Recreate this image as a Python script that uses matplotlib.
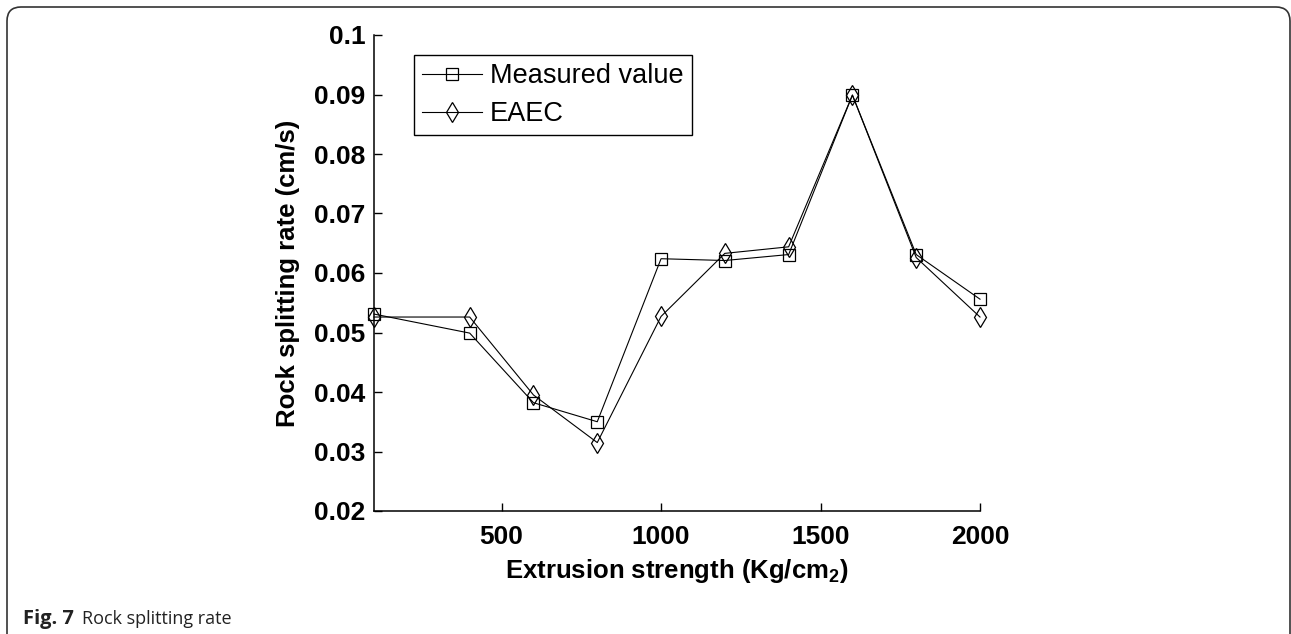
import matplotlib
matplotlib.use('Agg')
import matplotlib.pyplot as plt
from matplotlib.patches import FancyBboxPatch

# values
pressure = [100, 400, 600, 800, 1000, 1200, 1400, 1600, 1800, 2000]
measured = [0.0531, 0.0499, 0.0382, 0.0350, 0.0624, 0.0621, 0.0631, 0.0899, 0.0631, 0.0556]
eaec = [0.0526, 0.0526, 0.0395, 0.0315, 0.0527, 0.0633, 0.0644, 0.0899, 0.0626, 0.0526]

x_ticks = [500, 1000, 1500, 2000]
y_ticks = [0.02, 0.03, 0.04, 0.05, 0.06, 0.07, 0.08, 0.09, 0.1]
y_ticklabels = ['0.02', '0.03', '0.04', '0.05', '0.06', '0.07', '0.08', '0.09', '0.1']

plt.rcParams['font.family'] = ['Liberation Sans', 'DejaVu Sans']
plt.rcParams['mathtext.default'] = 'regular'

fig = plt.figure(figsize=(12.91, 6.34), dpi=100)
ax = fig.add_axes([374 / 1291, 1 - 511 / 634, 606 / 1291, 476 / 634])

ax.plot(pressure, measured, color='black', lw=0.8, marker='s', markersize=9,
        fillstyle='none', markeredgewidth=0.9, clip_on=False, label='Measured value')
ax.plot(pressure, eaec, color='black', lw=0.8, marker='d', markersize=10,
        fillstyle='none', markeredgewidth=0.9, clip_on=False, label='EAEC')

ax.set_xlim(100, 2000)
ax.set_ylim(0.02, 0.1)
ax.set_xticks(x_ticks)
ax.set_xticklabels([str(t) for t in x_ticks], fontsize=19, fontweight='bold')
ax.set_yticks(y_ticks)
ax.set_yticklabels(y_ticklabels, fontsize=19, fontweight='bold')
ax.tick_params(direction='in', length=6, width=1, color='black')
ax.tick_params(axis='x', pad=10)
ax.tick_params(axis='y', pad=6)

for side in ['top', 'right']:
    ax.spines[side].set_visible(False)
for side in ['left', 'bottom']:
    ax.spines[side].set_linewidth(1.1)

ax.set_xlabel('Extrusion strength (Kg/cm$_2$)', fontsize=18.5, fontweight='bold', labelpad=6)
ax.set_ylabel('Rock splitting rate (cm/s)', fontsize=18.5, fontweight='bold', labelpad=10)

leg = ax.legend(loc='upper left', bbox_to_anchor=(0.066, 0.958), borderaxespad=0,
                fontsize=19.5, handlelength=2.2, handletextpad=0.3, borderpad=0.3,
                labelspacing=0.45, fancybox=False, framealpha=1)
leg.get_frame().set_edgecolor('black')
leg.get_frame().set_linewidth(1.0)

# rounded frame around the figure, open at the bottom
frame = FancyBboxPatch((7, -40), 1283, 667, boxstyle='round,pad=0,rounding_size=14',
                       transform=None, fill=False, edgecolor='#333333', linewidth=1.2)
fig.add_artist(frame)

cap_font = ['Open Sans', 'DejaVu Sans']
fig.text(23 / 1291, 1 - 624 / 634, 'Fig. 7', fontsize=14.5, fontweight='bold',
         family=cap_font, va='baseline', color='#222222')
fig.text(82 / 1291, 1 - 624 / 634, 'Rock splitting rate', fontsize=13,
         family=cap_font, va='baseline', color='#222222')

fig.savefig('out.png', dpi=100)
